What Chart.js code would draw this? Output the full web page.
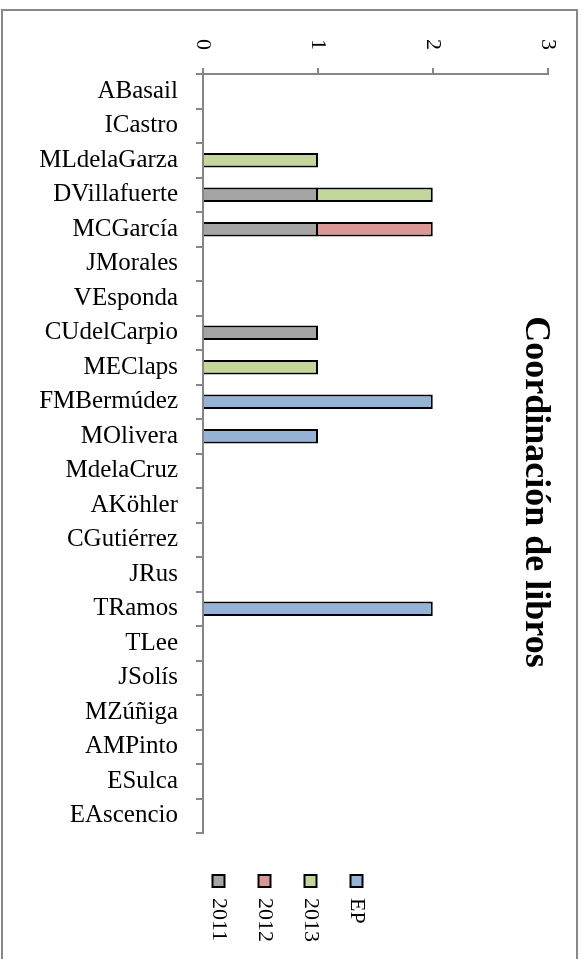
<!DOCTYPE html>
<html>
<head>
<meta charset="utf-8">
<script src="https://cdn.jsdelivr.net/npm/chart.js@4.4.0/dist/chart.umd.min.js"></script>
<style>
html, body { margin: 0; padding: 0; background: #fff; overflow: hidden; width: 583px; height: 959px; }
#frame { position: absolute; left: 1px; top: 9px; width: 577px; height: 1000px; border: 2px solid #898989; box-sizing: border-box; }
/* the chart is drawn as a normal column chart and turned a quarter clockwise */
#wrap { position: absolute; left: 0; top: 0; width: 980px; height: 583px; transform-origin: 0 0; transform: translate(583px, 0) rotate(90deg); }
</style>
</head>
<body>
<div id="frame"></div>
<div id="wrap"><canvas id="graphik" width="980" height="583"></canvas></div>
<script>
const autores = ["ABasail", "ICastro", "MLdelaGarza", "DVillafuerte", "MCGarcía", "JMorales", "VEsponda",
    "CUdelCarpio", "MEClaps", "FMBermúdez", "MOlivera", "MdelaCruz", "AKöhler", "CGutiérrez", "JRus",
    "TRamos", "TLee", "JSolís", "MZúñiga", "AMPinto", "ESulca", "EAscencio"];
const data2011 = [null, null, null, 1, 1, null, null, 1, null, null, null, null, null, null, null, null, null, null, null, null, null, null];
const data2012 = [null, null, null, null, 1, null, null, null, null, null, null, null, null, null, null, null, null, null, null, null, null, null];
const data2013 = [null, null, 1, 1, null, null, null, null, 1, null, null, null, null, null, null, null, null, null, null, null, null, null];
const dataEP = [null, null, null, null, null, null, null, null, null, 2, 1, null, null, null, null, 2, null, null, null, null, null, null];
const valueTicks = [0, 1, 2, 3];

const serif = "'Liberation Serif', 'DejaVu Serif', serif";
const axisGray = '#868686';

// nudge legend and title to where they sit in the original
const shiftBlocks = {
    id: 'shiftBlocks',
    afterLayout(chart) {
        chart.legend.left += 18;
        chart.legend.right += 18;
        chart.legend.top += 4;
        chart.legend.bottom += 4;
        chart.titleBlock.left += 25;
        chart.titleBlock.right += 25;
    }
};

var ctx = document.getElementById("graphik");
var graphik = new Chart(ctx, {
    type: 'bar',
    data: {
        labels: autores,
        datasets: [{
            label: "2011",
            data: data2011,
            backgroundColor: '#a5a5a5',
            borderColor: '#000',
            borderWidth: 2
        }, {
            label: "2012",
            data: data2012,
            backgroundColor: '#d99795',
            borderColor: '#000',
            borderWidth: 2
        }, {
            label: "2013",
            data: data2013,
            backgroundColor: '#c4d79b',
            borderColor: '#000',
            borderWidth: 2
        }, {
            label: "EP",
            data: dataEP,
            backgroundColor: '#95b3d7',
            borderColor: '#000',
            borderWidth: 2
        }]
    },
    options: {
        responsive: false,
        animation: false,
        devicePixelRatio: 1,
        barPercentage: 0.42,
        categoryPercentage: 1,
        layout: { padding: { left: 0, top: 0, right: 46, bottom: 0 } },
        plugins: {
            title: {
                display: true,
                text: "Coordinación de libros",
                color: '#000',
                font: { family: serif, size: 36, weight: 'bold' },
                padding: { top: 26, bottom: -34 }
            },
            legend: {
                position: 'right',
                align: 'center',
                reverse: true,
                labels: {
                    color: '#000',
                    font: { family: serif, size: 22 },
                    boxWidth: 12,
                    boxHeight: 12,
                    padding: 24
                }
            },
            tooltip: { enabled: false }
        },
        scales: {
            x: {
                stacked: true,
                offset: true,
                grid: { offset: true, drawOnChartArea: false, tickLength: 7, color: axisGray, lineWidth: 2 },
                border: { color: axisGray, width: 2 },
                ticks: {
                    autoSkip: false, minRotation: 90, maxRotation: 90, padding: 18,
                    color: '#000', font: { family: serif, size: 25 }
                },
                afterFit: scale => { scale.height = 203; }
            },
            y: {
                stacked: true,
                min: 0,
                max: 3,
                afterBuildTicks: scale => { scale.ticks = valueTicks.map(v => ({ value: v })); },
                grid: { drawOnChartArea: false, tickLength: 6, color: axisGray, lineWidth: 2 },
                border: { color: axisGray, width: 2 },
                ticks: { padding: 18, color: '#000', font: { family: serif, size: 22 } },
                afterFit: scale => { scale.width = 74; }
            }
        }
    },
    plugins: [shiftBlocks]
});
</script>
</body>
</html>
